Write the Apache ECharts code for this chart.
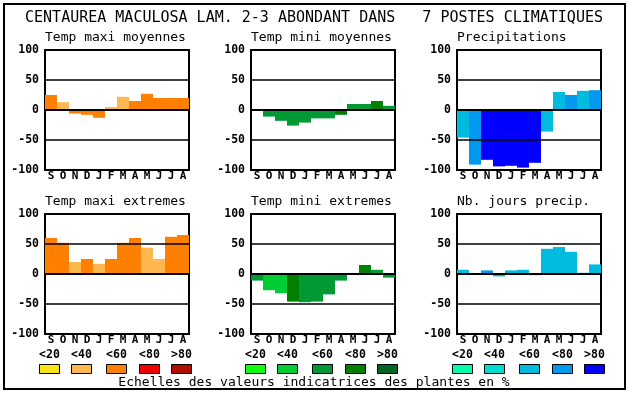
<!DOCTYPE html>
<html>
<head>
<meta charset="utf-8">
<script src="https://cdn.jsdelivr.net/npm/echarts@6/dist/echarts.min.js"></script>
<style>
html,body{margin:0;padding:0;background:#fff;}
#main{width:630px;height:394px;}
</style>
</head>
<body>
<div id="main"></div>
<script>
// ---- data ----
const months = ['S','O','N','D','J','F','M','A','M','J','J','A'];
const mainTitle = 'CENTAUREA MACULOSA LAM. 2-3 ABONDANT DANS   7 POSTES CLIMATIQUES';
const footer = 'Echelles des valeurs indicatrices des plantes en %';
const scaleLabels = ['<20','<40','<60','<80','>80'];

const orangeScale = ['#fbe31b','#ffb84f','#ff8000','#ee0000','#b00c00'];
const greenScale  = ['#11ff11','#00cc33','#009933','#007f00','#006622'];
const blueScale   = ['#00ffb0','#00dcd0','#00bbdd','#0099ee','#0000ff'];

const panelTitles = ['Temp maxi moyennes','Temp mini moyennes','Precipitations',
                     'Temp maxi extremes','Temp mini extremes','Nb. jours precip.'];

const tmaxMoy      = [25, 13, -6, -8, -13, 5, 22, 15, 27, 20, 20, 20];
const tmaxMoyClass = [2, 1, 2, 2, 2, 1, 1, 2, 2, 2, 2, 2];
const tminMoy      = [0, -11, -18, -26, -21, -14, -14, -8, 10, 10, 15, 7];
const tminMoyClass = [2, 2, 2, 2, 2, 2, 2, 3, 2, 2, 3, 2];
const precip       = [-46, -91, -83, -94, -93, -96, -88, -36, 30, 25, 32, 33];
const precipClass  = [2, 3, 4, 4, 4, 4, 4, 2, 2, 3, 2, 3];
const tmaxExt      = [60, 52, 20, 25, 17, 25, 52, 60, 44, 25, 62, 65];
const tmaxExtClass = [2, 2, 1, 2, 1, 2, 2, 2, 1, 1, 2, 2];
const tminExt      = [-11, -27, -32, -46, -47, -46, -34, -11, 0, 15, 7, -6];
const tminExtClass = [2, 1, 1, 3, 2, 2, 2, 2, 2, 3, 2, 2];
const nbJours      = [7, 0, 6, -4, 6, 7, -2, 42, 45, 37, 2, 16];
const nbJoursClass = [2, 2, 3, 2, 2, 2, 2, 2, 2, 2, 2, 2];

// ---- layout ----
const FONT = '"DejaVu Sans Mono", "Liberation Mono", monospace';
const colLeft = [45, 251, 457];
const rowTop = [50, 214];
const plotW = 144, plotH = 120;

const panels = [
  {vals: tmaxMoy, cls: tmaxMoyClass, pal: orangeScale},
  {vals: tminMoy, cls: tminMoyClass, pal: greenScale},
  {vals: precip,  cls: precipClass,  pal: blueScale},
  {vals: tmaxExt, cls: tmaxExtClass, pal: orangeScale},
  {vals: tminExt, cls: tminExtClass, pal: greenScale},
  {vals: nbJours, cls: nbJoursClass, pal: blueScale}
];

const grids = [], xAxes = [], yAxes = [], series = [], graphics = [];

panels.forEach((p, i) => {
  const r = Math.floor(i / 3), c = i % 3;
  grids.push({left: colLeft[c], top: rowTop[r], width: plotW, height: plotH,
    show: true, borderColor: '#000', borderWidth: 2, backgroundColor: 'transparent'});
  xAxes.push({type: 'category', gridIndex: i, data: months,
    axisLine: {show: false}, axisTick: {show: false}, splitLine: {show: false},
    axisLabel: {color: '#000', fontFamily: FONT, fontWeight: 'bold', fontSize: 11, margin: 1, interval: 0}});
  yAxes.push({type: 'value', gridIndex: i, min: -100, max: 100, interval: 50,
    axisLine: {show: false}, axisTick: {show: false}, splitLine: {show: false},
    axisLabel: {color: '#000', fontFamily: FONT, fontWeight: 'bold', fontSize: 11.5, margin: 6}});
  series.push({type: 'bar', xAxisIndex: i, yAxisIndex: i,
    barCategoryGap: '0%', barWidth: '100%',
    data: p.vals.map((v, k) => ({value: v, itemStyle: {color: p.pal[p.cls[k]]}})),
    markLine: {silent: true, symbol: 'none', label: {show: false},
      data: [
        {yAxis: 50, lineStyle: {color: '#000', width: 1.5, type: 'solid'}},
        {yAxis: 0, lineStyle: {color: '#000', width: 2, type: 'solid'}},
        {yAxis: -50, lineStyle: {color: '#000', width: 1.5, type: 'solid'}}
      ]}
  });
  graphics.push({type: 'text', left: colLeft[c], top: rowTop[r] - 19,
    style: {text: panelTitles[i], font: '13px ' + FONT, fill: '#000'}});
});

// main title and footer
graphics.push({type: 'text', x: 314, y: 18,
  style: {text: mainTitle, font: '15px ' + FONT, fill: '#000', textAlign: 'center', textVerticalAlign: 'middle'}});
graphics.push({type: 'text', x: 314, y: 383,
  style: {text: footer, font: '13px ' + FONT, fill: '#000', textAlign: 'center', textVerticalAlign: 'middle'}});
// outer frame
graphics.push({type: 'rect', shape: {x: 4, y: 4, width: 621, height: 385},
  style: {fill: 'none', stroke: '#000', lineWidth: 2}});

// scale legends
const groupStart = [39, 245, 452];
const boxOffset = [0, 32, 67, 100, 132];
const palettes = [orangeScale, greenScale, blueScale];
palettes.forEach((pal, g) => {
  pal.forEach((col, k) => {
    const x = groupStart[g] + boxOffset[k];
    graphics.push({type: 'rect', shape: {x: x + 0.5, y: 364.5, width: 20, height: 9},
      style: {fill: col, stroke: '#000', lineWidth: 1}});
    graphics.push({type: 'text', x: x + 10.5, y: 355,
      style: {text: scaleLabels[k], font: 'bold 11.5px ' + FONT, fill: '#000', textAlign: 'center', textVerticalAlign: 'middle'}});
  });
});

const chart = echarts.init(document.getElementById('main'), null, {renderer: 'canvas'});
chart.setOption({
  animation: false,
  backgroundColor: '#fff',
  grid: grids, xAxis: xAxes, yAxis: yAxes, series: series,
  graphic: graphics
});
</script>
</body>
</html>
